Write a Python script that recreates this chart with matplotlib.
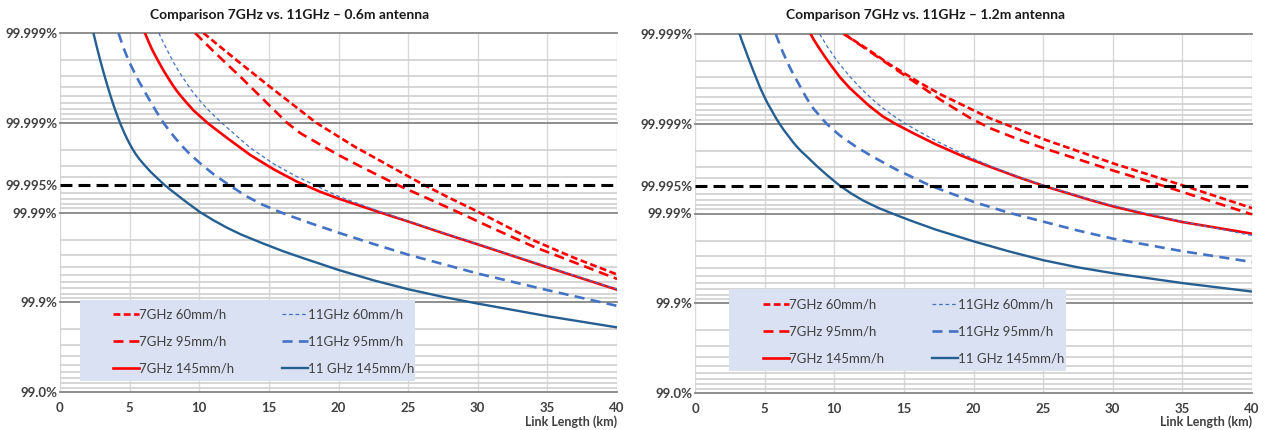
import numpy as np
import matplotlib
matplotlib.use("Agg")
import matplotlib.pyplot as plt
from matplotlib.ticker import FixedLocator, LogLocator, NullFormatter
from matplotlib.patches import Rectangle

plt.rcParams['font.family'] = ['Lato', 'DejaVu Sans']

# outage given as log10(1 - availability) against link length in km
# --- 0.6 m antenna ---
a06_7g60_km = [10.3, 12.5, 15.0, 18.4, 21.2, 24.0, 26.1, 28.0, 30.0, 34.0, 37.0, 40.0]
a06_7g60_lg = [-6.0, -5.72, -5.41, -5.0, -4.73, -4.49, -4.31, -4.16, -4.01, -3.69, -3.49, -3.31]
a06_7g95_km = [9.7, 11.0, 13.1, 16.3, 17.3, 20.0, 22.0, 24.2, 26.5, 28.5, 31.0, 34.0, 37.0, 40.0]
a06_7g95_lg = [-6.0, -5.80, -5.49, -5.0, -4.88, -4.64, -4.48, -4.31, -4.15, -4.01, -3.83, -3.62, -3.44, -3.26]
a06_7g145_km = [6.1, 6.35, 6.6, 6.88, 7.15, 7.42, 7.7, 8.03, 8.36, 8.68, 9.0, 9.57, 10.65, 12.0, 13.67,
                15.36, 17.0, 18.7, 20.0, 22.8, 25.0, 27.5, 30.0, 35.0, 40.0]
a06_7g145_lg = [-6.0, -5.907, -5.82, -5.737, -5.66, -5.585, -5.515, -5.435, -5.36, -5.298, -5.24, -5.14,
                -4.99, -4.83, -4.64, -4.48, -4.345, -4.23, -4.155, -4.01, -3.90, -3.77, -3.645, -3.39, -3.14]
a06_11g60_km = [7.1, 7.35, 7.6, 7.9, 8.2, 8.47, 8.75, 9.4, 10.05, 10.6, 11.6, 13.67, 15.36, 17.0, 18.5,
                20.0, 22.8, 25.0, 27.5, 30.0, 35.0, 40.0]
a06_11g60_lg = [-6.0, -5.917, -5.84, -5.748, -5.66, -5.588, -5.52, -5.37, -5.245, -5.15, -5.0, -4.72,
                -4.54, -4.40, -4.29, -4.18, -4.02, -3.905, -3.775, -3.65, -3.395, -3.145]
a06_11g95_km = [4.2, 4.4, 4.6, 4.8, 5.0, 5.32, 5.64, 6.06, 6.48, 6.95, 7.43, 7.9, 8.38, 8.85, 9.33, 10.2,
                11.0, 12.2, 13.4, 14.5, 16.2, 18.0, 20.0, 22.5, 25.0, 27.5, 30.0, 35.0, 40.0]
a06_11g95_lg = [-6.0, -5.907, -5.82, -5.742, -5.67, -5.567, -5.47, -5.352, -5.24, -5.117, -5.0, -4.901,
                -4.81, -4.727, -4.65, -4.53, -4.43, -4.30, -4.18, -4.09, -3.98, -3.88, -3.775, -3.65,
                -3.53, -3.425, -3.32, -3.135, -2.96]
a06_11g145_km = [2.4, 2.65, 2.9, 3.15, 3.4, 3.65, 3.9, 4.15, 4.4, 4.65, 4.9, 5.15, 5.4, 5.7, 6.0, 6.5,
                 7.0, 7.5, 8.0, 9.0, 10.0, 11.0, 12.0, 13.0, 14.5, 16.0, 17.3, 20.0, 22.5, 25.0, 27.5,
                 30.0, 35.0, 40.0]
a06_11g145_lg = [-6.0, -5.84, -5.69, -5.548, -5.415, -5.288, -5.17, -5.063, -4.965, -4.875, -4.795,
                 -4.723, -4.66, -4.595, -4.54, -4.454, -4.38, -4.308, -4.245, -4.125, -4.01, -3.915,
                 -3.83, -3.755, -3.66, -3.57, -3.50, -3.36, -3.245, -3.145, -3.06, -2.985, -2.845, -2.72]

# --- 1.2 m antenna ---
a12_7g60_km = [10.7, 12.5, 14.0, 16.0, 17.6, 21.2, 25.0, 30.0, 35.3, 40.0]
a12_7g60_lg = [-6.0, -5.82, -5.66, -5.47, -5.33, -5.06, -4.83, -4.56, -4.30, -4.06]
a12_7g95_km = [10.7, 12.5, 14.0, 16.0, 17.6, 19.8, 21.2, 23.0, 25.0, 30.0, 33.8, 40.0]
a12_7g95_lg = [-6.0, -5.81, -5.65, -5.44, -5.27, -5.06, -4.95, -4.84, -4.73, -4.48, -4.30, -3.99]
a12_7g145_km = [8.3, 8.55, 8.8, 9.25, 9.7, 10.4, 11.1, 12.5, 13.5, 14.5, 15.8, 17.3, 19.2, 21.2, 23.2,
                25.2, 28.5, 30.0, 32.3, 35.0, 40.0]
a12_7g145_lg = [-6.0, -5.932, -5.87, -5.765, -5.665, -5.52, -5.40, -5.20, -5.08, -4.99, -4.885, -4.77,
                -4.64, -4.52, -4.405, -4.30, -4.145, -4.08, -3.995, -3.905, -3.775]
a12_11g60_km = [8.95, 9.5, 10.3, 11.1, 12.0, 13.0, 14.0, 14.9, 16.0, 17.3, 19.2, 21.2, 23.2, 25.2,
                28.5, 30.0, 32.3, 35.0, 40.0]
a12_11g60_lg = [-6.0, -5.86, -5.68, -5.53, -5.38, -5.235, -5.115, -5.02, -4.92, -4.81, -4.665, -4.53,
                -4.41, -4.305, -4.15, -4.09, -4.005, -3.91, -3.755]
a12_11g95_km = [5.8, 6.05, 6.3, 6.6, 6.9, 7.17, 7.43, 7.7, 8.0, 8.25, 8.5, 9.0, 9.45, 9.9, 10.4, 11.6,
                12.8, 14.45, 16.9, 20.0, 22.5, 25.0, 27.5, 30.0, 35.0, 40.0]
a12_11g95_lg = [-6.0, -5.897, -5.80, -5.697, -5.60, -5.522, -5.45, -5.372, -5.29, -5.228, -5.17, -5.08,
                -5.0, -4.936, -4.87, -4.74, -4.63, -4.49, -4.31, -4.13, -4.01, -3.91, -3.81, -3.72,
                -3.58, -3.46]
a12_11g145_km = [3.2, 3.4, 3.6, 3.8, 4.0, 4.25, 4.5, 4.72, 4.95, 5.22, 5.5, 5.78, 6.07, 6.38, 6.7, 7.0,
                 7.31, 7.65, 8.0, 8.74, 9.5, 10.4, 11.2, 12.07, 13.2, 14.33, 15.5, 17.3, 20.0, 22.5,
                 25.0, 27.5, 30.0, 35.0, 40.0]
a12_11g145_lg = [-6.0, -5.912, -5.83, -5.745, -5.665, -5.565, -5.47, -5.387, -5.31, -5.226, -5.15,
                 -5.072, -5.0, -4.93, -4.865, -4.803, -4.745, -4.69, -4.64, -4.53, -4.425, -4.31,
                 -4.225, -4.145, -4.06, -3.99, -3.92, -3.82, -3.69, -3.58, -3.48, -3.40, -3.335,
                 -3.225, -3.13]

series_names = ["7GHz 60mm/h", "7GHz 95mm/h", "7GHz 145mm/h",
                "11GHz 60mm/h", "11GHz 95mm/h", "11 GHz 145mm/h"]
target_outage = 5e-5          # 99.995 %
ytick_vals = [1e-6, 1e-5, 5e-5, 1e-4, 1e-3, 1e-2]
ytick_labels = ["99.999%", "99.999%", "99.995%", "99.99%", "99.9%", "99.0%"]
xtick_vals = [0, 5, 10, 15, 20, 25, 30, 35, 40]

panels = [
    ("Comparison 7GHz vs. 11GHz \u2013 0.6m antenna",
     [(a06_7g60_km, a06_7g60_lg), (a06_7g95_km, a06_7g95_lg), (a06_7g145_km, a06_7g145_lg),
      (a06_11g60_km, a06_11g60_lg), (a06_11g95_km, a06_11g95_lg), (a06_11g145_km, a06_11g145_lg)]),
    ("Comparison 7GHz vs. 11GHz \u2013 1.2m antenna",
     [(a12_7g60_km, a12_7g60_lg), (a12_7g95_km, a12_7g95_lg), (a12_7g145_km, a12_7g145_lg),
      (a12_11g60_km, a12_11g60_lg), (a12_11g95_km, a12_11g95_lg), (a12_11g145_km, a12_11g145_lg)]),
]

RED = "#ff0000"
BLUE = "#4472c4"
NAVY = "#255e91"
styles = [
    dict(color=RED, lw=1.9, ls=(0, (2.6, 1.3))),
    dict(color=RED, lw=1.9, ls=(0, (3.8, 2.2))),
    dict(color=RED, lw=1.9, ls="-"),
    dict(color=BLUE, lw=0.9, ls=(0, (3.0, 2.2))),
    dict(color=BLUE, lw=1.9, ls=(0, (3.8, 2.4))),
    dict(color=NAVY, lw=1.7, ls="-"),
]
TXT = "#404040"

W, H = 1265, 430
fig = plt.figure(figsize=(W / 100, H / 100), dpi=100)

# pixel layout: axes box (left, top, right, bottom), title centre x, legend box, legend anchor
layout = [
    dict(box=(60, 33, 617, 392), title_x=290, leg_box=(80, 300, 415, 381), leg_at=(106, 302)),
    dict(box=(695, 34, 1252, 393), title_x=925, leg_box=(729, 289, 1066, 371), leg_at=(756, 292)),
]

for (title, curves), lay in zip(panels, layout):
    l, t, r, b = lay["box"]
    ax = fig.add_axes([l / W, 1 - b / H, (r - l) / W, (b - t) / H])
    ax.set_yscale("log")
    ax.set_xlim(0, 40)
    ax.set_ylim(1e-2, 1e-6)
    for s in ax.spines.values():
        s.set_visible(False)

    ax.xaxis.set_major_locator(FixedLocator(xtick_vals))
    ax.set_xticklabels([str(v) for v in xtick_vals])
    ax.set_yticks(ytick_vals)
    ax.set_yticklabels(ytick_labels)
    ax.yaxis.set_minor_locator(LogLocator(base=10, subs=np.arange(2, 10)))
    ax.yaxis.set_minor_formatter(NullFormatter())
    ax.tick_params(which="both", length=0)
    ax.tick_params(axis="x", pad=7, labelsize=9.5, labelcolor=TXT)
    ax.tick_params(axis="y", pad=2, labelsize=9.5, labelcolor=TXT)
    for lab in ax.get_xticklabels() + ax.get_yticklabels():
        lab.set_fontweight("bold")

    ax.grid(axis="x", which="major", color="#d9d9d9", lw=1.0, zorder=0)
    ax.grid(axis="y", which="minor", color="#d0d0d0", lw=1.2, zorder=0)
    for dec in [1e-6, 1e-5, 1e-4, 1e-3, 1e-2]:
        ax.axhline(dec, color="#858585", lw=1.3, zorder=1, clip_on=False)
    ax.set_axisbelow(True)

    handles = []
    for (km, lg), st, name in zip(curves, styles, series_names):
        h, = ax.plot(km, 10.0 ** np.asarray(lg), color=st["color"], lw=st["lw"],
                     linestyle=st["ls"], label=name, zorder=3)
        handles.append(h)

    ax.axhline(target_outage, color="black", lw=2.2, linestyle=(0, (3.9, 2.0)), zorder=4)

    # legend panel
    lx0, ly0, lx1, ly1 = lay["leg_box"]
    to_ax = lambda px, py: ((px - l) / (r - l), (b - py) / (b - t))
    bx, by = to_ax(lx0, ly1)
    ax.add_patch(Rectangle((bx, by), (lx1 - lx0) / (r - l), (ly1 - ly0) / (b - t),
                           transform=ax.transAxes, facecolor="#d9e1f2",
                           edgecolor="none", zorder=5))
    leg = ax.legend(handles=handles, ncol=2, loc="upper left",
                    bbox_to_anchor=to_ax(*lay["leg_at"]), frameon=False,
                    fontsize=9.5, handlelength=2.0, handletextpad=0.0,
                    labelspacing=1.12, columnspacing=3.6, borderpad=0.0)
    leg.set_zorder(6)
    for tx in leg.get_texts():
        tx.set_color(TXT)

    fig.text(lay["title_x"] / W, 1 - 15 / H, title, ha="center", va="center",
             fontsize=10, fontweight="bold", color="#1a1a1a")
    fig.text(r / W, 1 - 422 / H, "Link Length (km)", ha="right", va="center",
             fontsize=9, fontweight="bold", color=TXT)

fig.savefig("out.png", dpi=100)
